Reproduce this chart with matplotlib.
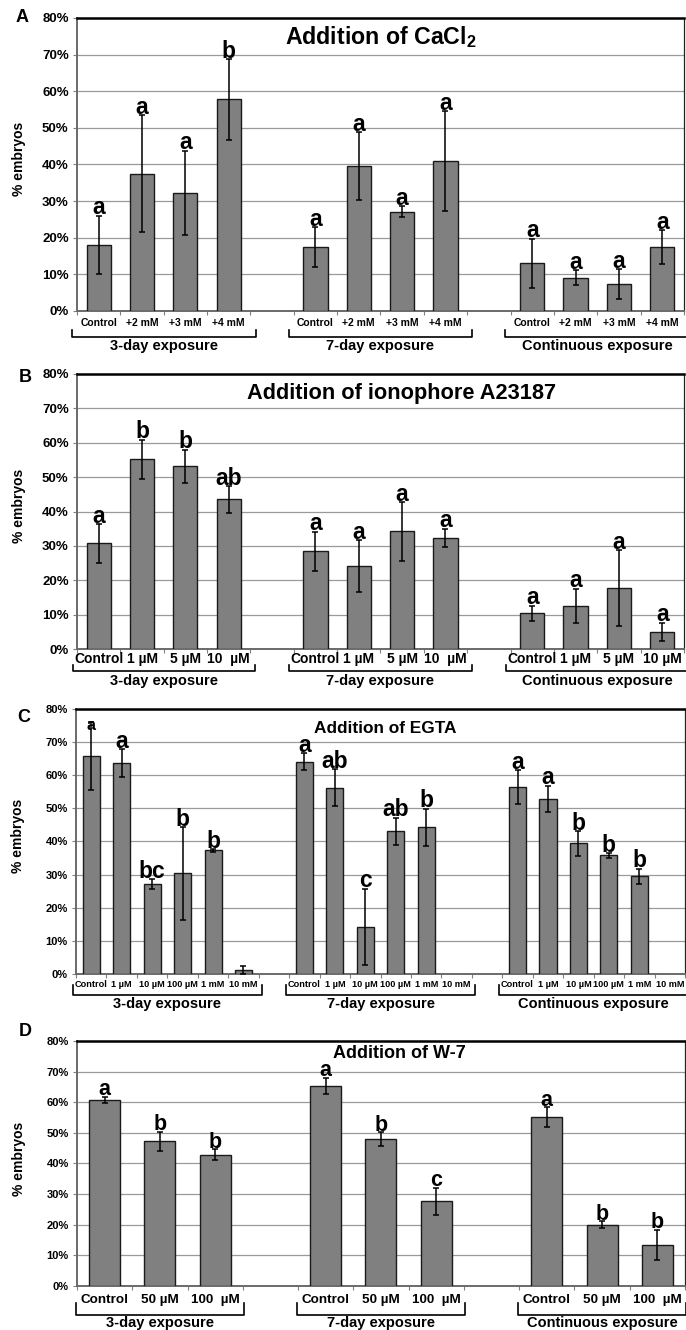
import matplotlib
matplotlib.use('Agg')
import matplotlib.pyplot as plt
import matplotlib.transforms as mtransforms
import numpy as np

plt.rcParams['font.family'] = ['Liberation Sans', 'DejaVu Sans']
plt.rcParams['mathtext.fontset'] = 'custom'
plt.rcParams['mathtext.rm'] = 'Liberation Sans'
plt.rcParams['mathtext.bf'] = 'Liberation Sans:bold'

groups = ['3-day exposure', '7-day exposure', 'Continuous exposure']

# A - CaCl2
ca_labels = [['Control', '+2 mM', '+3 mM', '+4 mM']] * 3
ca_mean = [[18.0, 37.5, 32.3, 57.8], [17.4, 39.5, 27.1, 40.9], [13.0, 9.1, 7.4, 17.4]]
ca_err = [[8.0, 16.0, 11.5, 11.0], [5.5, 9.3, 1.5, 13.7], [6.7, 2.1, 4.0, 4.7]]
ca_letters = [['a', 'a', 'a', 'b'], ['a', 'a', 'a', 'a'], ['a', 'a', 'a', 'a']]

# B - ionophore A23187
ion_labels = [['Control', '1 µM', '5 µM', '10  µM'],
              ['Control', '1 µM', '5 µM', '10  µM'],
              ['Control', '1 µM', '5 µM', '10 µM']]
ion_mean = [[30.7, 55.2, 53.1, 43.5], [28.4, 24.2, 34.2, 32.4], [10.4, 12.6, 17.8, 5.0]]
ion_err = [[5.7, 5.7, 4.9, 3.8], [5.7, 7.5, 8.5, 2.6], [2.2, 4.9, 11.0, 2.7]]
ion_letters = [['a', 'b', 'b', 'ab'], ['a', 'a', 'a', 'a'], ['a', 'a', 'a', 'a']]

# C - EGTA
egta_labels = [['Control', '1 µM', '10 µM', '100 µM', '1 mM', '10 mM']] * 3
egta_mean = [[65.9, 63.6, 27.1, 30.4, 37.3, 1.2],
             [64.1, 56.3, 14.2, 43.1, 44.3, 0.0],
             [56.5, 52.9, 39.4, 35.8, 29.5, 0.0]]
egta_err = [[10.3, 4.2, 1.5, 14.0, 0.4, 1.2],
            [2.6, 5.5, 11.6, 4.1, 5.6, 0.0],
            [5.1, 4.0, 3.7, 0.7, 2.3, 0.0]]
egta_letters = [['a', 'a', 'bc', 'b', 'b', ''],
                ['a', 'ab', 'c', 'ab', 'b', ''],
                ['a', 'a', 'b', 'b', 'b', '']]

# D - W-7
w7_labels = [['Control', '50 µM', '100  µM']] * 3
w7_mean = [[60.8, 47.3, 42.8], [65.4, 48.0, 27.6], [55.1, 20.0, 13.4]]
w7_err = [[1.0, 3.1, 1.8], [2.6, 2.3, 4.5], [3.2, 1.2, 5.0]]
w7_letters = [['a', 'b', 'b'], ['a', 'b', 'c'], ['a', 'b', 'b']]


def panel(ax, labels, means, errs, letters, title, title_pos, title_size,
          ytick_size, xtick_size, xtick_pad, letter_size, bracket_y, ext,
          small_first=False):
    n = len(labels[0])
    nslots = 3 * n + 2
    xs, hs, es, lab_txt = [], [], [], []
    for g in range(3):
        for j in range(n):
            xs.append(g * (n + 1) + j)
            hs.append(means[g][j])
            es.append(errs[g][j])
            lab_txt.append(labels[g][j])

    # empty bars (value 0) are left out, as in the source figure
    keep = [i for i in range(len(xs)) if hs[i] > 0]
    bx = [xs[i] for i in keep]
    bh = [hs[i] for i in keep]
    be = [es[i] for i in keep]
    ax.bar(bx, bh, width=0.56, color='#808080', edgecolor='#1a1a1a',
           linewidth=1.0, zorder=3)
    ax.errorbar(bx, bh, yerr=be, fmt='none', ecolor='black', elinewidth=1.1,
                capsize=2.5, capthick=1.1, zorder=4)

    k = 0
    for g in range(3):
        for j in range(n):
            txt = letters[g][j]
            size = letter_size
            dy = 1
            if small_first and k == 0:
                size = letter_size - 5
                dy = -6
            ax.annotate(txt, (xs[k], hs[k] + es[k]), xytext=(0, dy),
                        textcoords='offset points', ha='center',
                        va='baseline', fontsize=size, fontweight='bold',
                        zorder=5)
            k += 1

    ax.set_xlim(-0.5, nslots - 0.5)
    ax.set_ylim(0, 80)
    ax.set_yticks(np.arange(0, 81, 10))
    ax.set_yticklabels(['%d%%' % v for v in range(0, 81, 10)],
                       fontsize=ytick_size, fontweight='bold')
    ax.yaxis.grid(True, color='#9a9a9a', linewidth=0.9, zorder=0)
    ax.set_axisbelow(True)

    ax.set_xticks(np.arange(-0.5, nslots, 1.0))
    ax.set_xticklabels([])
    ax.set_xticks(xs, minor=True)
    ax.set_xticklabels(lab_txt, minor=True, fontsize=xtick_size,
                       fontweight='bold')
    ax.tick_params(axis='x', which='major', length=3, color='#808080')
    ax.tick_params(axis='x', which='minor', length=0, pad=xtick_pad)
    ax.tick_params(axis='y', length=3, color='#808080', pad=3)

    ax.spines['top'].set_linewidth(1.8)
    ax.spines['top'].set_color('black')
    ax.spines['right'].set_linewidth(0.9)
    ax.spines['right'].set_color('#222222')
    ax.spines['left'].set_linewidth(1.4)
    ax.spines['left'].set_color('#6a6a6a')
    ax.spines['bottom'].set_linewidth(1.4)
    ax.spines['bottom'].set_color('#6a6a6a')

    ax.set_ylabel('% embryos', fontsize=10, fontweight='bold')
    ax.yaxis.set_label_coords(-0.084, 0.52)

    ax.text(title_pos[0], title_pos[1], title, transform=ax.transAxes,
            ha='center', va='center', fontsize=title_size, fontweight='bold')

    # group brackets under the category labels
    trans = mtransforms.blended_transform_factory(ax.transData, ax.transAxes)
    y_line, y_end, y_text = bracket_y
    for g in range(3):
        x0 = g * (n + 1) - 0.5 - ext
        x1 = g * (n + 1) + n - 0.5 + ext
        ax.plot([x0, x0, x1, x1], [y_end, y_line, y_line, y_end],
                transform=trans, clip_on=False, color='black', linewidth=1.2)
        ax.text((x0 + x1) / 2, y_text, groups[g], transform=trans,
                ha='center', va='center', fontsize=10.5, fontweight='bold')


fig = plt.figure(figsize=(6.86, 13.30), dpi=100)
ax_a = fig.add_axes([0.1122, 0.7662, 0.8848, 0.2203])
ax_b = fig.add_axes([0.1122, 0.5120, 0.8848, 0.2068])
ax_c = fig.add_axes([0.1108, 0.2677, 0.8878, 0.1992])
ax_d = fig.add_axes([0.1122, 0.0331, 0.8863, 0.1842])

panel(ax_a, ca_labels, ca_mean, ca_err, ca_letters,
      r'Addition of CaCl$_\mathbf{2}$', (0.5, 0.935), 16.7,
      9.5, 7.5, 5, 16.5, (-0.089, -0.065, -0.119), 0.12)
panel(ax_b, ion_labels, ion_mean, ion_err, ion_letters,
      'Addition of ionophore A23187', (0.535, 0.93), 15.7,
      9.5, 10, 2, 16.5, (-0.080, -0.058, -0.116), 0.1)
panel(ax_c, egta_labels, egta_mean, egta_err, egta_letters,
      'Addition of EGTA', (0.507, 0.928), 12.4,
      8, 6.6, 4, 16.5, (-0.079, -0.040, -0.113), 0.1, small_first=True)
panel(ax_d, w7_labels, w7_mean, w7_err, w7_letters,
      'Addition of W-7', (0.53, 0.947), 13,
      8, 9.7, 6, 15.5, (-0.118, -0.068, -0.151), 0.02)

for letter, (px, py) in zip('ABCD', [(22, 17), (25, 378), (24, 718), (25, 1032)]):
    fig.text(px / 686, 1 - py / 1330, letter, ha='center', va='center',
             fontsize=13, fontweight='bold')

fig.savefig('out.png', dpi=100)
